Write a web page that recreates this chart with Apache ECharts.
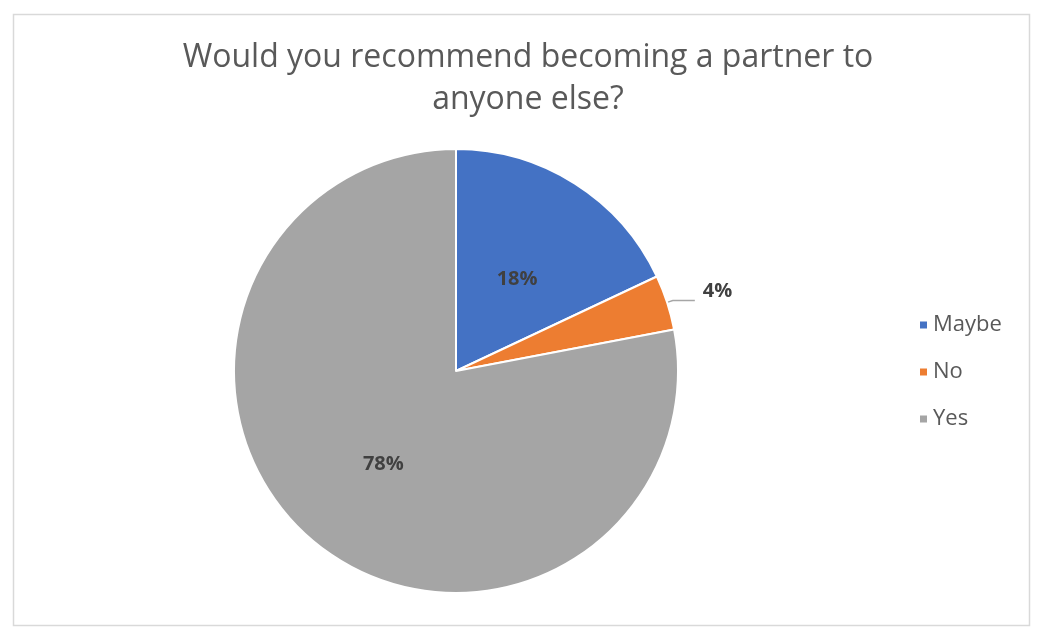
<!DOCTYPE html>
<html>
<head>
<meta charset="utf-8">
<script src="https://cdn.jsdelivr.net/npm/echarts@6/dist/echarts.min.js"></script>
<style>
html,body{margin:0;padding:0;background:#fff;}
#chart{width:1047px;height:638px;}
</style>
</head>
<body>
<div id="chart"></div>
<script>
const categories = ['Maybe', 'No', 'Yes'];
const values = [18, 4, 78];
const colors = ['#4472C4', '#ED7D31', '#A5A5A5'];
const titleText = 'Would you recommend becoming a partner to\nanyone else?';

const chart = echarts.init(document.getElementById('chart'));
const data = categories.map((c, i) => {
  const d = { name: c, value: values[i], itemStyle: { color: colors[i] } };
  if (c === 'No') {
    d.label = { position: 'outside' };
    d.labelLine = { show: true };
  }
  return d;
});
chart.setOption({
  animation: false,
  backgroundColor: '#fff',
  graphic: [{
    type: 'rect',
    shape: { x: 13.5, y: 14.5, width: 1016, height: 611 },
    style: { fill: 'none', stroke: '#D9D9D9', lineWidth: 1.5 },
    z: -1
  }],
  title: {
    text: titleText,
    left: 523,
    top: 32,
    textAlign: 'center',
    textStyle: {
      fontFamily: 'Open Sans',
      fontSize: 32,
      fontWeight: 'normal',
      color: '#595959',
      lineHeight: 42
    }
  },
  legend: {
    orient: 'vertical',
    left: 913,
    top: 309,
    icon: 'rect',
    itemWidth: 9,
    itemHeight: 9,
    itemGap: 25,
    data: categories,
    textStyle: { fontFamily: 'Open Sans', fontSize: 22, color: '#595959' }
  },
  series: [{
    type: 'pie',
    center: [456, 371],
    radius: 222,
    startAngle: 90,
    clockwise: true,
    data: data,
    itemStyle: { borderColor: '#fff', borderWidth: 2 },
    label: {
      show: true,
      position: 'inside',
      formatter: p => p.value + '%',
      fontFamily: 'Open Sans',
      fontSize: 20,
      fontWeight: 'bold',
      color: '#404040'
    },
    labelLayout: function (p) {
      if (p.dataIndex === 1) return { dx: 3, dy: -9 };
      return { dy: 5 };
    },
    labelLine: {
      show: false,
      length: 6,
      length2: 22,
      lineStyle: { color: '#A6A6A6', width: 1.5 }
    }
  }]
});
</script>
</body>
</html>
